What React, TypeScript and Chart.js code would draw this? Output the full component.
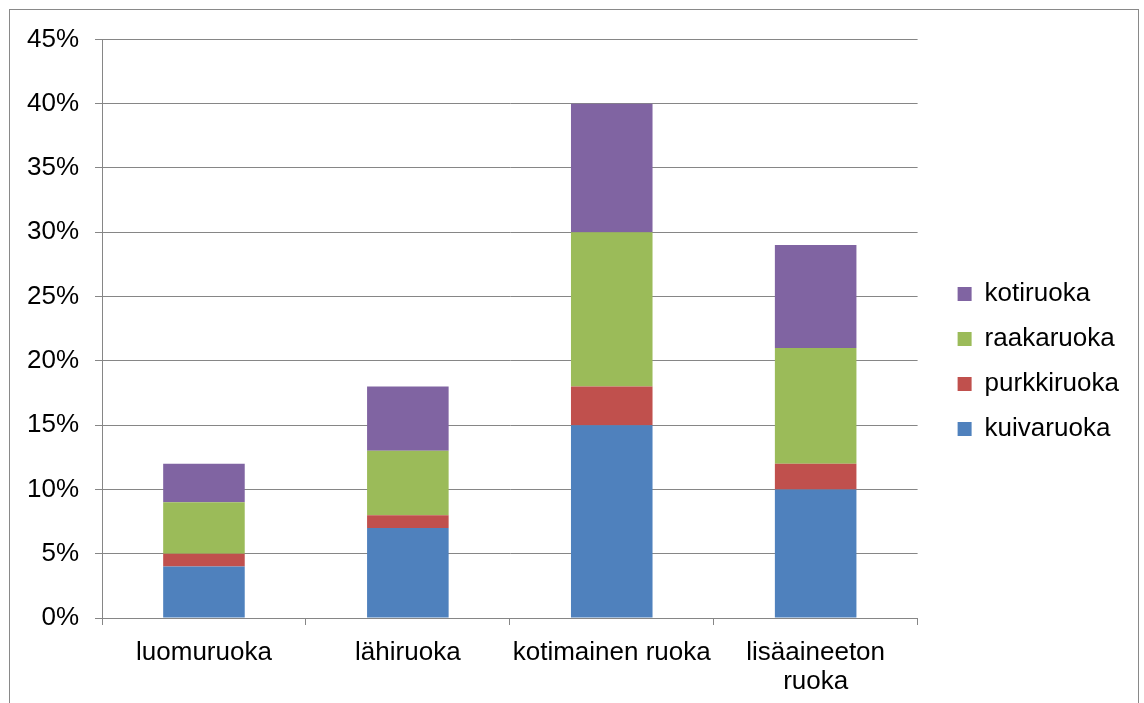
import React, { useEffect, useRef } from "react";
import { Chart, registerables } from "chart.js";

Chart.register(...registerables);

const categories: (string | string[])[] = [
  "luomuruoka",
  "lähiruoka",
  "kotimainen ruoka",
  ["lisäaineeton", "ruoka"],
];
const seriesNames = ["kuivaruoka", "purkkiruoka", "raakaruoka", "kotiruoka"];
const kuivaruoka = [4, 7, 15, 10];
const purkkiruoka = [1, 1, 3, 2];
const raakaruoka = [4, 5, 12, 9];
const kotiruoka = [3, 5, 10, 8];
const seriesColors = ["#4F81BD", "#C0504D", "#9BBB59", "#8064A2"];
const yMax = 45;
const yStep = 5;

const FONT = "'Liberation Sans', Arial, sans-serif";

const legendShift = {
  id: "legendShift",
  afterLayout(chart: any) {
    const lg = chart.legend;
    if (!lg) return;
    lg.left += 21;
    lg.right += 21;
    lg.top -= 10;
    lg.bottom -= 10;
  },
};

export default function App() {
  const canvasRef = useRef<HTMLCanvasElement | null>(null);

  useEffect(() => {
    document.body.style.overflow = "hidden";
    const canvas = canvasRef.current;
    if (!canvas) return;
    const values = [kuivaruoka, purkkiruoka, raakaruoka, kotiruoka];
    const chart = new Chart(canvas, {
      type: "bar",
      data: {
        labels: categories,
        datasets: seriesNames.map((name, i) => ({
          label: name,
          data: values[i],
          backgroundColor: seriesColors[i],
          borderWidth: 0,
          barPercentage: 0.8,
          categoryPercentage: 0.5,
        })),
      },
      plugins: [legendShift],
      options: {
        animation: false,
        responsive: false,
        maintainAspectRatio: false,
        layout: { padding: { top: 25, right: 30, left: 0, bottom: 0 } },
        plugins: {
          tooltip: { enabled: false },
          legend: {
            position: "right",
            reverse: true,
            labels: {
              boxWidth: 14,
              boxHeight: 14,
              padding: 19,
              color: "#000",
              font: { family: FONT, size: 26 },
            },
          },
        },
        scales: {
          x: {
            stacked: true,
            afterFit: (scale: any) => {
              scale.height = 90;
            },
            grid: {
              display: true,
              drawOnChartArea: false,
              drawTicks: true,
              tickLength: 7,
              color: "#868686",
              offset: true,
            },
            border: { color: "#868686", width: 1 },
            ticks: {
              color: "#000",
              font: { family: FONT, size: 26, lineHeight: 1.12 },
              padding: 13,
              maxRotation: 0,
              autoSkip: false,
            },
          },
          y: {
            stacked: true,
            min: 0,
            max: yMax,
            afterFit: (scale: any) => {
              scale.width = 92;
            },
            grid: {
              color: "#868686",
              tickLength: 7,
              lineWidth: 1,
            },
            border: { color: "#868686", width: 1 },
            ticks: {
              stepSize: yStep,
              color: "#000",
              padding: 16,
              font: { family: FONT, size: 26, lineHeight: 1.03 },
              callback: (v: any) => v + "%",
            },
          },
        },
      },
    });
    return () => chart.destroy();
  }, []);

  return (
    <div
      style={{
        position: "absolute",
        left: 9,
        top: 9,
        width: 1130,
        height: 700,
        boxSizing: "border-box",
        border: "1px solid #898989",
        background: "#fff",
      }}
    >
      <canvas ref={canvasRef} width={1128} height={698} style={{ display: "block" }} />
    </div>
  );
}
